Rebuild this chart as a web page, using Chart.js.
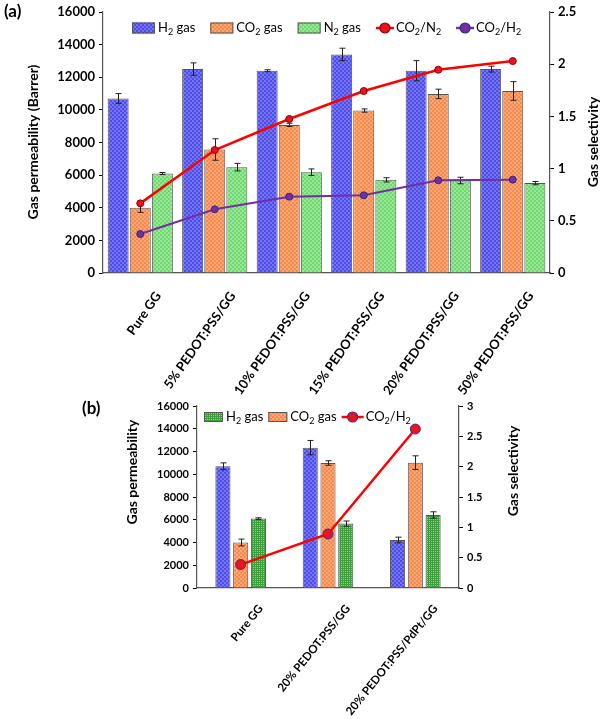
<!DOCTYPE html>
<html>
<head>
  <meta charset="UTF-8">
  <title>Gas permeability and selectivity</title>
  <script src="https://cdn.jsdelivr.net/npm/chart.js"></script>
  <style>
    body { margin: 0; background: #fff; }
    #wrap { position: relative; width: 602px; height: 719px; overflow: hidden; }
    #chartA { position: absolute; left: 0; top: 0; }
    #chartB { position: absolute; left: 0; top: 390px; }
  </style>
</head>
<body>
<div id="wrap">
  <canvas id="chartA" width="602" height="400"></canvas>
  <canvas id="chartB" width="602" height="329"></canvas>
</div>
<script>
  // ---- panel (a) data ----
  var labelsA = ['Pure GG', '5% PEDOT:PSS/GG', '10% PEDOT:PSS/GG', '15% PEDOT:PSS/GG', '20% PEDOT:PSS/GG', '50% PEDOT:PSS/GG'];
  var h2A = [10700, 12500, 12400, 13400, 12400, 12500];
  var h2ErrA = [300, 380, 60, 380, 620, 180];
  var co2A = [4000, 7570, 9080, 9960, 10980, 11160];
  var co2ErrA = [280, 660, 100, 100, 290, 570];
  var n2A = [6100, 6490, 6180, 5710, 5670, 5510];
  var n2ErrA = [60, 230, 200, 130, 200, 100];
  var co2n2A = [0.667, 1.178, 1.475, 1.743, 1.947, 2.03];
  var co2h2A = [0.373, 0.61, 0.731, 0.744, 0.888, 0.894];

  // ---- panel (b) data ----
  var labelsB = ['Pure GG', '20% PEDOT:PSS/GG', '20% PEDOT:PSS/PdPt/GG'];
  var h2B = [10700, 12340, 4220];
  var h2ErrB = [300, 630, 250];
  var co2B = [4000, 10990, 11020];
  var co2ErrB = [300, 200, 600];
  var n2B = [6100, 5660, 6420];
  var n2ErrB = [70, 230, 280];
  var co2h2B = [0.386, 0.89, 2.62];

  var FONT = 'Lato, "Open Sans", sans-serif';

  // small checkered fill like the original hatch
  function makePattern(base, light, cross) {
    var c = document.createElement('canvas');
    c.width = 4; c.height = 4;
    var g = c.getContext('2d');
    g.fillStyle = base;
    g.fillRect(0, 0, 4, 4);
    g.fillStyle = light;
    if (cross) {
      g.fillRect(1, 1, 1, 1); g.fillRect(3, 3, 1, 1);
      g.fillRect(3, 1, 1, 1); g.fillRect(1, 3, 1, 1);
    } else {
      g.fillRect(0, 0, 2, 2); g.fillRect(2, 2, 2, 2);
    }
    return document.createElement('canvas').getContext('2d').createPattern(c, 'repeat');
  }

  var blueFill = makePattern('#4d4dec', '#7676f3');
  var orangeFill = makePattern('#f68a4c', '#fba876');
  var greenFill = makePattern('#6fd86e', '#9be79a');
  var darkGreenFill = makePattern('#3e9e3e', '#8fd08a', true);

  // draws "CO_2/H_2" style text with subscripts, returns end x
  function drawRich(ctx, text, x, y, size, weight) {
    var parts = text.split(/_(\d)/);
    for (var i = 0; i < parts.length; i++) {
      if (!parts[i]) continue;
      var sub = i % 2 === 1;
      var fs = sub ? Math.round(size * 0.68) : size;
      ctx.font = (weight || 'normal') + ' ' + fs + 'px ' + FONT;
      ctx.fillText(parts[i], x, sub ? y + size * 0.3 : y);
      x += ctx.measureText(parts[i]).width;
    }
    return x;
  }

  var errorBars = {
    id: 'errorBars',
    afterDatasetDraw: function (chart, args) {
      var ds = chart.data.datasets[args.index];
      if (!ds.errors) return;
      var meta = args.meta;
      var yScale = chart.scales[meta.yAxisID];
      var ctx = chart.ctx;
      ctx.save();
      ctx.strokeStyle = '#222';
      ctx.lineWidth = 1;
      meta.data.forEach(function (bar, j) {
        var top = yScale.getPixelForValue(ds.data[j] + ds.errors[j]);
        var bot = yScale.getPixelForValue(ds.data[j] - ds.errors[j]);
        var x = Math.round(bar.x) + 0.5;
        ctx.beginPath();
        ctx.moveTo(x, top); ctx.lineTo(x, bot);
        ctx.moveTo(x - 3, top); ctx.lineTo(x + 3, top);
        ctx.moveTo(x - 3, bot); ctx.lineTo(x + 3, bot);
        ctx.stroke();
      });
      ctx.restore();
    }
  };

  // legend, panel letter and axis titles
  var decor = {
    id: 'decor',
    afterDraw: function (chart, args, opts) {
      var ctx = chart.ctx;
      ctx.save();
      ctx.fillStyle = '#000';
      ctx.textBaseline = 'middle';
      ctx.textAlign = 'left';
      ctx.font = 'bold 17px ' + FONT;
      ctx.fillText(opts.letter[0], opts.letter[1], opts.letter[2]);

      var x = opts.legend.x, y = opts.legend.y, lg = opts.legend;
      lg.items.forEach(function (it) {
        if (it.type === 'box') {
          ctx.fillStyle = it.fill;
          ctx.fillRect(x, y - lg.bh / 2, lg.bw, lg.bh);
          ctx.strokeStyle = '#555';
          ctx.lineWidth = 1;
          ctx.strokeRect(x + 0.5, y - lg.bh / 2 + 0.5, lg.bw - 1, lg.bh - 1);
          x += lg.bw + 3;
        } else {
          ctx.strokeStyle = it.color;
          ctx.lineWidth = 2.5;
          ctx.beginPath(); ctx.moveTo(x, y); ctx.lineTo(x + lg.lw, y); ctx.stroke();
          ctx.beginPath(); ctx.arc(x + lg.lw / 2, y, 5, 0, Math.PI * 2);
          ctx.fillStyle = it.marker;
          ctx.fill();
          ctx.lineWidth = 1.2;
          ctx.strokeStyle = it.edge;
          ctx.stroke();
          x += lg.lw + 2;
        }
        ctx.fillStyle = '#000';
        x = drawRich(ctx, it.text, x, y, lg.size) + lg.gap;
      });

      ctx.font = 'bold 14px ' + FONT;
      ctx.textAlign = 'center';
      opts.titles.forEach(function (t) {
        ctx.save();
        ctx.translate(t[1], t[2]);
        ctx.rotate(-Math.PI / 2);
        ctx.fillText(t[0], 0, 0);
        ctx.restore();
      });
      ctx.restore();
    }
  };

  function axisFont(size) {
    return { family: FONT, size: size, weight: 'bold' };
  }

  function plain(v) { return String(v); }

  function makeChart(id, cfg) {
    return new Chart(document.getElementById(id), {
      type: 'bar',
      data: { labels: cfg.labels, datasets: cfg.datasets },
      plugins: [errorBars, decor],
      options: {
        responsive: false,
        animation: false,
        layout: { padding: cfg.padding },
        datasets: { bar: { categoryPercentage: cfg.catPct, barPercentage: cfg.barPct } },
        plugins: { legend: { display: false }, tooltip: { enabled: false }, decor: cfg.decor },
        scales: {
          x: {
            afterFit: function (s) { s.height = cfg.xHeight; },
            grid: { display: false },
            border: { color: '#555', width: 1.2 },
            ticks: {
              color: '#000', font: axisFont(cfg.labelSize), minRotation: cfg.rotation, maxRotation: cfg.rotation,
              autoSkip: false, labelOffset: cfg.labelOffset, padding: cfg.labelPad
            }
          },
          y: {
            position: 'left', min: 0, max: 16000,
            afterFit: function (s) { s.width = cfg.yWidth; },
            grid: { drawOnChartArea: false, color: '#000', tickLength: 4 },
            border: { color: '#555', width: 1.2 },
            ticks: { stepSize: 2000, color: '#000', font: axisFont(cfg.tickSize), padding: 4, callback: plain }
          },
          y1: {
            position: 'right', min: 0, max: cfg.rightMax,
            afterFit: function (s) { s.width = cfg.y1Width; },
            grid: { drawOnChartArea: false, color: '#000', tickLength: 4 },
            border: { color: '#555', width: 1.2 },
            ticks: { stepSize: 0.5, color: '#000', font: axisFont(cfg.tickSize), padding: 4, callback: plain }
          }
        }
      }
    });
  }

  function barSet(label, data, errs, fill) {
    return { type: 'bar', label: label, data: data, errors: errs, yAxisID: 'y', order: 2,
      backgroundColor: fill, borderColor: '#555', borderWidth: 1 };
  }

  function lineSet(label, data, color, marker, edge, r, w) {
    return { type: 'line', label: label, data: data, yAxisID: 'y1', order: 0,
      borderColor: color, borderWidth: w, pointRadius: r, pointBackgroundColor: marker,
      pointBorderColor: edge, pointBorderWidth: 1, fill: false, tension: 0 };
  }

  makeChart('chartA', {
    labels: labelsA,
    padding: { left: 22, right: 0, top: 12, bottom: 0 },
    xHeight: 127, yWidth: 81, y1Width: 52, rightMax: 2.5, tickSize: 13,
    catPct: 0.89, barPct: 0.95, labelOffset: 18, labelSize: 13, rotation: 55, labelPad: 8,
    datasets: [
      barSet('H₂ gas', h2A, h2ErrA, blueFill),
      barSet('CO₂ gas', co2A, co2ErrA, orangeFill),
      barSet('N₂ gas', n2A, n2ErrA, greenFill),
      lineSet('CO₂/N₂', co2n2A, '#ff0000', '#e8141e', '#8b0000', 3.5, 2.5),
      lineSet('CO₂/H₂', co2h2A, '#7030a0', '#7030a0', '#2b2b8f', 3.5, 2)
    ],
    decor: {
      letter: ['(a)', 4, 12],
      legend: { x: 132, y: 28, bw: 23, bh: 11, lw: 18, gap: 15, size: 13, items: [
        { type: 'box', fill: blueFill, text: 'H_2 gas' },
        { type: 'box', fill: orangeFill, text: 'CO_2 gas' },
        { type: 'box', fill: greenFill, text: 'N_2 gas' },
        { type: 'line', color: '#ff0000', marker: '#e8141e', edge: '#8b0000', text: 'CO_2/N_2' },
        { type: 'line', color: '#7030a0', marker: '#7030a0', edge: '#2b2b8f', text: 'CO_2/H_2' }
      ] },
      titles: [['Gas permeability (Barrer)', 33, 142], ['Gas selectivity', 593, 142]]
    }
  });

  makeChart('chartB', {
    labels: labelsB,
    padding: { left: 119, right: 77, top: 16, bottom: 0 },
    xHeight: 131, yWidth: 78, y1Width: 66, rightMax: 3, tickSize: 11,
    catPct: 0.61, barPct: 0.85, labelOffset: 20, labelSize: 11.5, rotation: 51, labelPad: 6,
    datasets: [
      barSet('H₂ gas', h2B, h2ErrB, blueFill),
      barSet('CO₂ gas', co2B, co2ErrB, orangeFill),
      barSet('N₂ gas', n2B, n2ErrB, darkGreenFill),
      lineSet('CO₂/H₂', co2h2B, '#ff0000', '#e8141e', '#4b2a8f', 5, 2.5)
    ],
    decor: {
      letter: ['(b)', 82, 19],
      legend: { x: 204, y: 27, bw: 19, bh: 10, lw: 22, gap: 5, size: 13, items: [
        { type: 'box', fill: darkGreenFill, text: 'H_2 gas' },
        { type: 'box', fill: orangeFill, text: 'CO_2 gas' },
        { type: 'line', color: '#ff0000', marker: '#e8141e', edge: '#4b2a8f', text: 'CO_2/H_2' }
      ] },
      titles: [['Gas permeability', 132, 82], ['Gas selectivity', 513, 81]]
    }
  });
</script>
</body>
</html>
